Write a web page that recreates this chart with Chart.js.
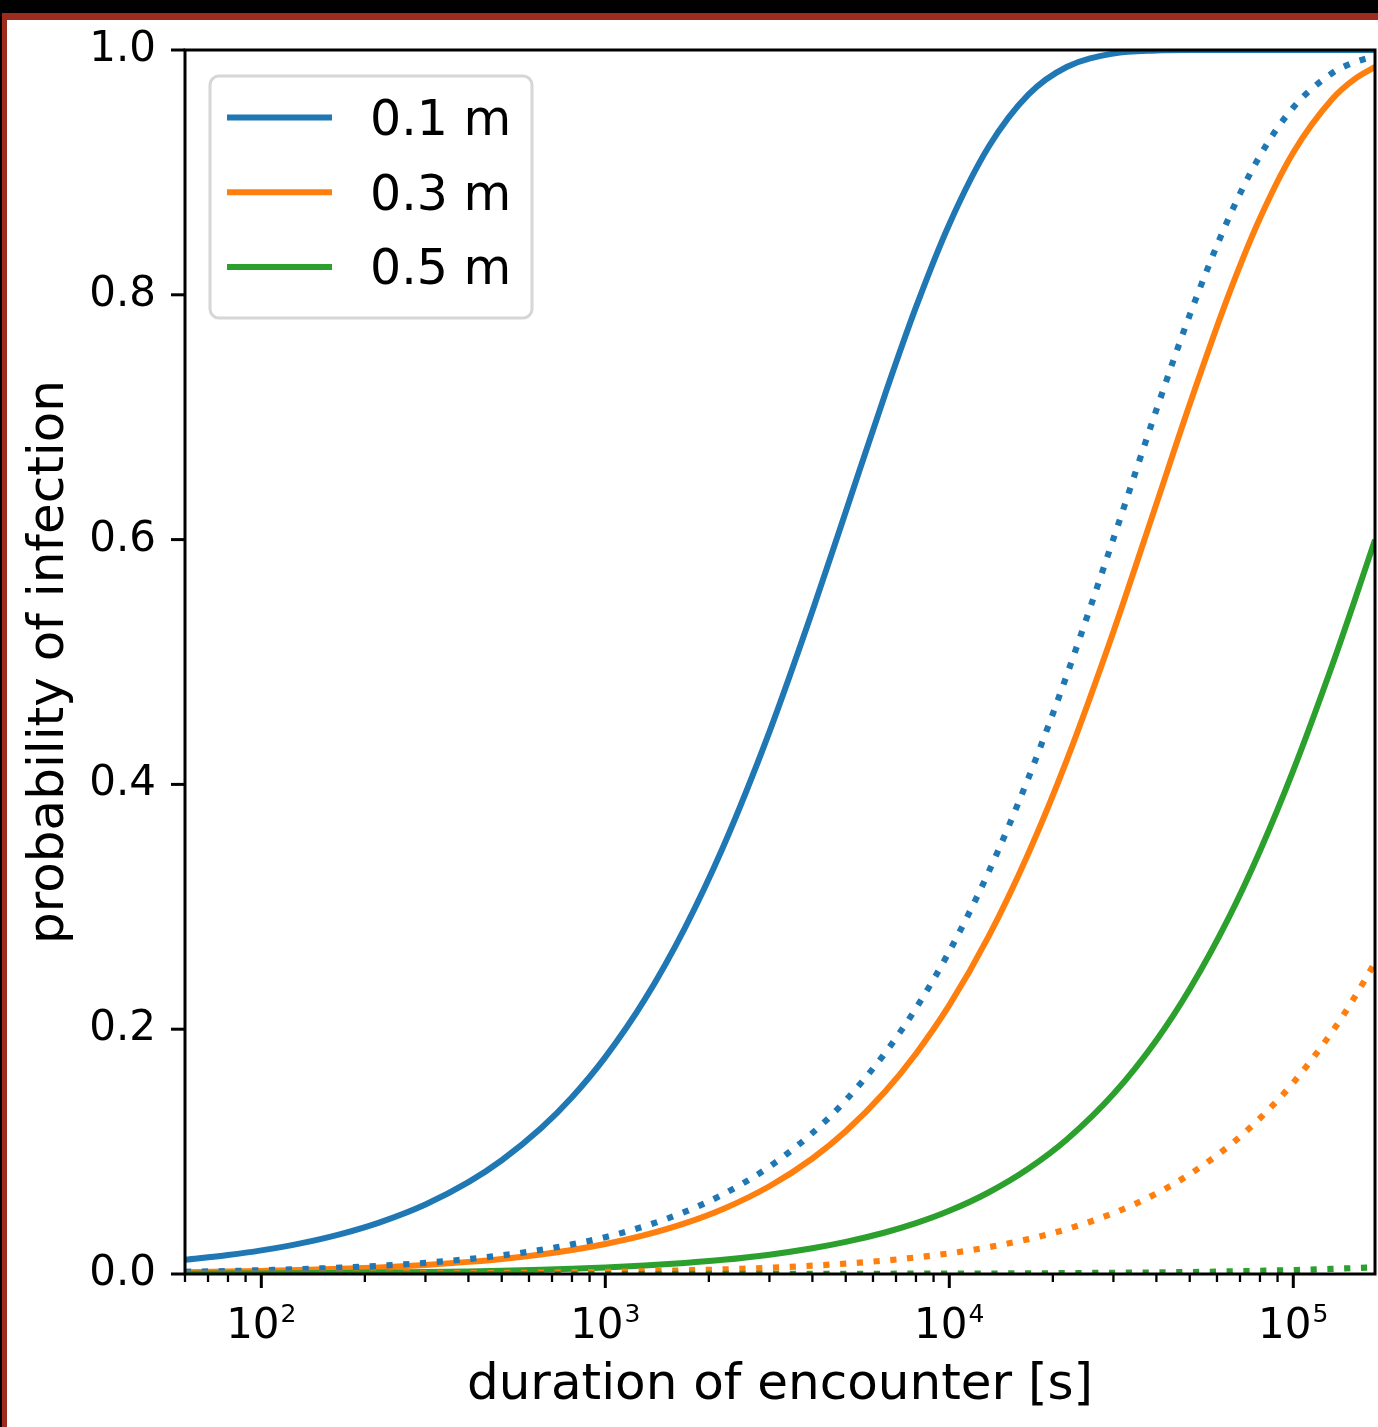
<!DOCTYPE html>
<html>
<head>
<meta charset="utf-8">
<script src="https://cdn.jsdelivr.net/npm/chart.js@4.4.1/dist/chart.umd.min.js"></script>
<style>
    html, body { margin: 0; padding: 0; background: #fff; }
    #frame {
        position: absolute; left: 0; top: 0; width: 1378px; height: 1427px;
        box-sizing: border-box; border-top: 13px solid #000; border-left: 2px solid #000;
    }
    #inner {
        width: 100%; height: 100%; box-sizing: border-box; background: #fff;
        border-top: 7px solid #9e2b20; border-left: 5px solid #9e2b20;
    }
    #wrap { position: absolute; left: 0; top: 0; width: 1378px; height: 1427px; }
</style>
</head>
<body>
<div id="frame"><div id="inner"></div></div>
<div id="wrap"><canvas id="infectionChart" width="1378" height="1427"></canvas></div>
<script>
// duration of encounter [s]
const durations = [60, 80, 100, 130, 170, 220, 300, 400, 500, 650, 800, 1000, 1300, 1700, 2200, 3000,
    4000, 5000, 6500, 8000, 10000, 13000, 17000, 22000, 30000, 40000, 50000, 65000, 80000, 100000, 130000,
    150000, 172800];

const seriesLabels = ['0.1 m', '0.3 m', '0.5 m'];
const seriesColors = ['#1f77b4', '#ff7f0e', '#2ca02c'];

// solid curves
const prob01 = [0.0116, 0.0155, 0.0193, 0.0250, 0.0326, 0.0420, 0.0568, 0.0750, 0.0929, 0.1190, 0.1444, 0.1772,
    0.2239, 0.2822, 0.3488, 0.4429, 0.5416, 0.6228, 0.7184, 0.7899, 0.8577, 0.9207, 0.9637, 0.9863,
    0.9971, 0.9996, 1.0, 1.0, 1.0, 1.0, 1.0, 1.0, 1.0];
const prob03 = [0.0015, 0.0020, 0.0025, 0.0032, 0.0042, 0.0054, 0.0074, 0.0099, 0.0123, 0.0160, 0.0196, 0.0245,
    0.0317, 0.0413, 0.0531, 0.0717, 0.0944, 0.1166, 0.1489, 0.1800, 0.2196, 0.2756, 0.3440, 0.4205,
    0.5248, 0.6292, 0.7106, 0.8005, 0.8625, 0.9163, 0.9602, 0.9758, 0.9862];
const prob05 = [0.0003, 0.0004, 0.0005, 0.0007, 0.0009, 0.0012, 0.0016, 0.0021, 0.0026, 0.0034, 0.0042, 0.0053,
    0.0069, 0.0090, 0.0116, 0.0158, 0.0210, 0.0262, 0.0339, 0.0415, 0.0516, 0.0666, 0.0862, 0.1101,
    0.1470, 0.1910, 0.2328, 0.2914, 0.3456, 0.4114, 0.4979, 0.5484, 0.5998];

// dotted curves
const prob01Dot = [0.0018, 0.0024, 0.0031, 0.0040, 0.0052, 0.0067, 0.0091, 0.0122, 0.0152, 0.0197, 0.0242, 0.0301,
    0.0390, 0.0507, 0.0651, 0.0877, 0.1152, 0.1419, 0.1804, 0.2171, 0.2636, 0.3282, 0.4056, 0.4899,
    0.6007, 0.7060, 0.7835, 0.8631, 0.9136, 0.9531, 0.9813, 0.9898, 0.9950];
const prob03Dot = [0.0001, 0.0001, 0.0002, 0.0002, 0.0003, 0.0004, 0.0005, 0.0007, 0.0009, 0.0011, 0.0014, 0.0017,
    0.0022, 0.0029, 0.0037, 0.0051, 0.0068, 0.0085, 0.0110, 0.0135, 0.0169, 0.0219, 0.0285, 0.0367,
    0.0497, 0.0657, 0.0815, 0.1046, 0.1272, 0.1563, 0.1983, 0.2251, 0.2545];
const prob05Dot = [0.0000, 0.0000, 0.0000, 0.0000, 0.0000, 0.0000, 0.0000, 0.0000, 0.0000, 0.0000, 0.0000, 0.0000,
    0.0000, 0.0001, 0.0001, 0.0001, 0.0001, 0.0002, 0.0002, 0.0003, 0.0003, 0.0004, 0.0005, 0.0007,
    0.0010, 0.0013, 0.0016, 0.0021, 0.0026, 0.0032, 0.0042, 0.0048, 0.0055];

// ticks
const xMajorTicks = [100, 1000, 10000, 100000];
const xMajorBase = ['10', '10', '10', '10'];
const xMajorExp = ['2', '3', '4', '5'];
const xMinorTicks = [60, 70, 80, 90, 200, 300, 400, 500, 600, 700, 800, 900, 2000, 3000, 4000, 5000, 6000, 7000,
    8000, 9000, 20000, 30000, 40000, 50000, 60000, 70000, 80000, 90000];
const yTickValues = [0, 0.2, 0.4, 0.6, 0.8, 1.0];
const yTickLabels = ['0.0', '0.2', '0.4', '0.6', '0.8', '1.0'];

const FONT = 'DejaVu Sans';
const DOT = [6.2, 10.6];

const toPoints = (ys) => durations.map((t, i) => ({ x: t, y: ys[i] }));

const makeDataset = (label, values, color, dotted) => ({
    label: label,
    data: toPoints(values),
    borderColor: color,
    backgroundColor: color,
    borderWidth: dotted ? 6.2 : 6,
    borderDash: dotted ? DOT : [],
    dotted: dotted,
    pointRadius: 0,
    fill: false,
    cubicInterpolationMode: 'monotone',
    clip: 0
});

const datasets = [
    makeDataset(seriesLabels[0], prob01, seriesColors[0], false),
    makeDataset(seriesLabels[1], prob03, seriesColors[1], false),
    makeDataset(seriesLabels[2], prob05, seriesColors[2], false),
    makeDataset(seriesLabels[0], prob01Dot, seriesColors[0], true),
    makeDataset(seriesLabels[1], prob03Dot, seriesColors[1], true),
    makeDataset(seriesLabels[2], prob05Dot, seriesColors[2], true)
];
// later series on top, like the original plot
datasets.forEach((ds, i) => { ds.order = datasets.length - i; });

const boxLegend = {
    id: 'boxLegend',
    afterDatasetsDraw(chart) {
        const { ctx, chartArea: area } = chart;
        const items = chart.data.datasets.filter(ds => !ds.dotted);
        const bx = area.left + 25, by = area.top + 26;
        ctx.save();
        ctx.beginPath();
        ctx.roundRect(bx, by, 322, 242, 9);
        ctx.fillStyle = 'rgba(255,255,255,0.8)';
        ctx.fill();
        ctx.strokeStyle = '#d6d6d6';
        ctx.lineWidth = 3;
        ctx.stroke();
        items.forEach((ds, i) => {
            const cy = by + 41.5 + i * 74.7;
            ctx.strokeStyle = ds.borderColor;
            ctx.lineWidth = 6;
            ctx.beginPath();
            ctx.moveTo(bx + 17, cy);
            ctx.lineTo(bx + 122, cy);
            ctx.stroke();
            ctx.fillStyle = '#000';
            ctx.font = `49px "${FONT}"`;
            ctx.textBaseline = 'alphabetic';
            ctx.textAlign = 'left';
            ctx.fillText(ds.label, bx + 160, cy + 17.5);
        });
        ctx.restore();
    }
};

// spines, tick marks of two lengths and the 10^n labels with a raised exponent
const axisDecor = {
    id: 'axisDecor',
    afterDraw(chart) {
        const { ctx, chartArea: area, scales: { x, y } } = chart;
        ctx.save();
        ctx.strokeStyle = '#000';
        ctx.lineCap = 'butt';
        x.ticks.forEach(t => {
            const px = x.getPixelForValue(t.value);
            const major = xMajorTicks.includes(t.value);
            ctx.lineWidth = major ? 3 : 2.3;
            ctx.beginPath();
            ctx.moveTo(px, area.bottom);
            ctx.lineTo(px, area.bottom + (major ? 14 : 8));
            ctx.stroke();
        });
        y.ticks.forEach(t => {
            const py = y.getPixelForValue(t.value);
            ctx.lineWidth = 3;
            ctx.beginPath();
            ctx.moveTo(area.left, py);
            ctx.lineTo(area.left - 14, py);
            ctx.stroke();
        });
        ctx.lineWidth = 3;
        ctx.strokeRect(area.left, area.top, area.right - area.left, area.bottom - area.top);

        ctx.fillStyle = '#000';
        ctx.textBaseline = 'alphabetic';
        ctx.textAlign = 'left';
        const baseFont = `42px "${FONT}"`, expFont = `25px "${FONT}"`;
        const baseline = area.bottom + 63.5;
        xMajorTicks.forEach((v, i) => {
            const px = x.getPixelForValue(v);
            ctx.font = baseFont;
            const w1 = ctx.measureText(xMajorBase[i]).width;
            ctx.font = expFont;
            const w2 = ctx.measureText(xMajorExp[i]).width;
            const start = px - (w1 + w2 + 1) / 2;
            ctx.font = baseFont;
            ctx.fillText(xMajorBase[i], start, baseline);
            ctx.font = expFont;
            ctx.fillText(xMajorExp[i], start + w1 + 1, baseline - 16);
        });
        ctx.restore();
    }
};

const hiddenGrid = { drawOnChartArea: false, drawTicks: true, tickLength: 14, color: 'rgba(0,0,0,0)' };

new Chart(document.getElementById('infectionChart'), {
    type: 'line',
    data: { datasets: datasets },
    options: {
        responsive: false,
        animation: false,
        devicePixelRatio: 1,
        layout: { padding: { top: 50, right: 3, left: 0, bottom: 0 } },
        plugins: { legend: { display: false }, tooltip: { enabled: false } },
        scales: {
            x: {
                type: 'logarithmic',
                min: 60,
                max: 172800,
                afterBuildTicks: (scale) => {
                    scale.ticks = xMinorTicks.concat(xMajorTicks).sort((a, b) => a - b).map(v => ({ value: v }));
                },
                afterFit: (scale) => { scale.height = 153; },
                grid: hiddenGrid,
                border: { display: false },
                ticks: { display: false, autoSkip: false, maxRotation: 0, minRotation: 0 },
                title: {
                    display: true,
                    text: 'duration of encounter [s]',
                    color: '#000',
                    font: { family: FONT, size: 50 },
                    padding: { top: 0, bottom: 11 }
                }
            },
            y: {
                type: 'linear',
                min: 0,
                max: 1,
                afterBuildTicks: (scale) => { scale.ticks = yTickValues.map(v => ({ value: v })); },
                afterFit: (scale) => { scale.width = 185; },
                grid: hiddenGrid,
                border: { display: false },
                ticks: {
                    autoSkip: false,
                    padding: 15,
                    color: '#000',
                    font: { family: FONT, size: 42 },
                    callback: (value, index) => yTickLabels[index]
                },
                title: {
                    display: true,
                    text: 'probability of infection',
                    color: '#000',
                    font: { family: FONT, size: 50 },
                    padding: { top: 20, bottom: 0 }
                }
            }
        }
    },
    plugins: [boxLegend, axisDecor]
});
</script>
</body>
</html>
